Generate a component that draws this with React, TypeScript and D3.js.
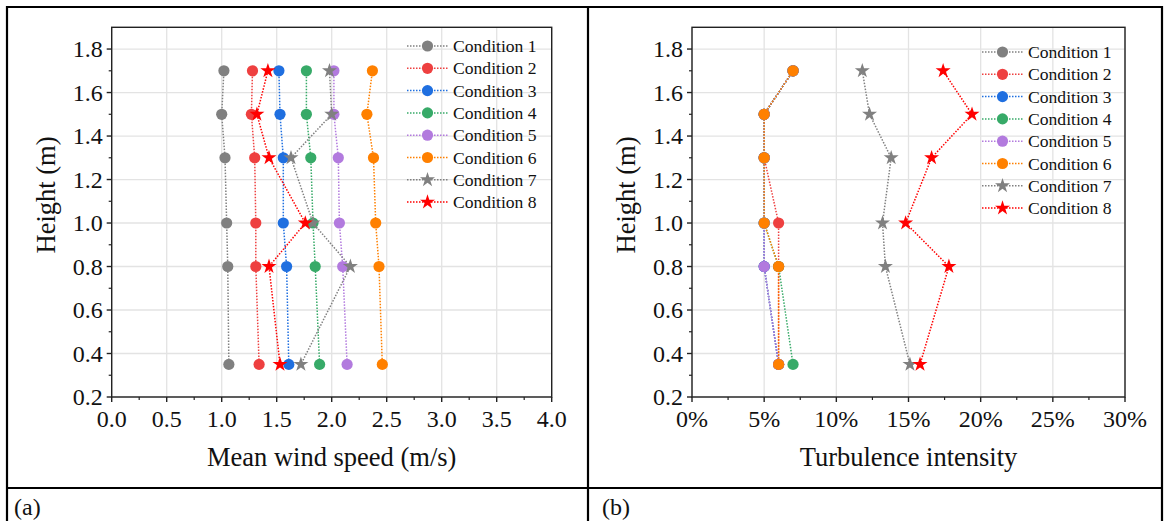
import * as d3 from 'd3';
import React from 'react';

// heights of the measuring points (m)
const heights = [1.7, 1.5, 1.3, 1.0, 0.8, 0.35];

const conditions = ['Condition 1', 'Condition 2', 'Condition 3', 'Condition 4',
  'Condition 5', 'Condition 6', 'Condition 7', 'Condition 8'];

// mean wind speed (m/s), one array per condition, same order as heights
const speed1 = [1.02, 1.0, 1.03, 1.045, 1.055, 1.065];
const speed2 = [1.28, 1.27, 1.3, 1.31, 1.31, 1.34];
const speed3 = [1.52, 1.53, 1.56, 1.56, 1.59, 1.61];
const speed4 = [1.77, 1.77, 1.81, 1.83, 1.85, 1.89];
const speed5 = [2.02, 2.02, 2.06, 2.07, 2.1, 2.14];
const speed6 = [2.37, 2.32, 2.38, 2.4, 2.43, 2.46];
const speed7 = [1.98, 2.0, 1.63, 1.83, 2.17, 1.72];
const speed8 = [1.42, 1.32, 1.43, 1.76, 1.43, 1.53];

// turbulence intensity (fraction)
const ti1 = [0.07, 0.05, 0.05, 0.05, 0.05, 0.06];
const ti2 = [0.07, 0.05, 0.05, 0.06, 0.06, 0.06];
const ti3 = [0.07, 0.05, 0.05, 0.05, 0.05, 0.06];
const ti4 = [0.07, 0.05, 0.05, 0.05, 0.06, 0.07];
const ti5 = [0.07, 0.05, 0.05, 0.05, 0.05, 0.06];
const ti6 = [0.07, 0.05, 0.05, 0.05, 0.06, 0.06];
const ti7 = [0.118, 0.123, 0.138, 0.132, 0.134, 0.151];
const ti8 = [0.174, 0.194, 0.166, 0.148, 0.178, 0.158];

const speedTicks = [0, 0.5, 1, 1.5, 2, 2.5, 3, 3.5, 4];
const tiTicks = [0, 0.05, 0.1, 0.15, 0.2, 0.25, 0.3];
const heightTicks = [0.2, 0.4, 0.6, 0.8, 1.0, 1.2, 1.4, 1.6, 1.8];

const colors = ['#808080', '#ee4040', '#1f6fe0', '#37aa68', '#b27ade', '#ff8000', '#808080', '#ff0000'];
const shapes = ['circle', 'circle', 'circle', 'circle', 'circle', 'circle', 'star', 'star'];

const FONT = '"Liberation Serif", "Times New Roman", serif';

const speedSeries = [speed1, speed2, speed3, speed4, speed5, speed6, speed7, speed8];
const tiSeries = [ti1, ti2, ti3, ti4, ti5, ti6, ti7, ti8];

const Marker = ({ x, y, i }) => {
  if (shapes[i] === 'star') {
    return <path transform={`translate(${x},${y})`} d={d3.symbol(d3.symbolStar, 70)()} fill={colors[i]} />;
  }
  return <circle cx={x} cy={y} r={5.6} fill={colors[i]} />;
};

const Panel = ({ left, right, series, xDomain, xTicks, xMinor, fmt, title, legendX, legendY }) => {
  const top = 27.3, bottom = 397;
  const x = d3.scaleLinear().domain(xDomain).range([left, right]);
  const y = d3.scaleLinear().domain([0.2, 1.9]).range([bottom, top]);
  const yMinor = d3.range(0.3, 1.9, 0.2);

  const line = d3.line<[number, number]>()
    .x(d => x(d[0]))
    .y(d => y(d[1]));

  return (
    <g>
      {/* grid */}
      {xTicks.map(t => (
        <line key={'gx' + t} x1={x(t)} x2={x(t)} y1={top} y2={bottom} stroke="#e3e3e3" strokeWidth={1.3} />
      ))}
      {heightTicks.map(t => (
        <line key={'gy' + t} x1={left} x2={right} y1={y(t)} y2={y(t)} stroke="#e3e3e3" strokeWidth={1.3} />
      ))}

      {/* series */}
      {series.map((vals, i) => {
        const pts = vals.map((v, k) => [v, heights[k]] as [number, number]);
        return (
          <g key={'s' + i}>
            <path d={line(pts)} fill="none" stroke={colors[i]} strokeWidth={1.5} strokeDasharray="1.5,1.5" />
            {pts.map((p, k) => <Marker key={k} x={x(p[0])} y={y(p[1])} i={i} />)}
          </g>
        );
      })}

      {/* legend */}
      {conditions.map((c, i) => {
        const ly = legendY + i * 22.3;
        return (
          <g key={'l' + i}>
            <line x1={legendX} x2={legendX + 41} y1={ly} y2={ly} stroke={colors[i]} strokeWidth={1.5} strokeDasharray="1.5,1.5" />
            <Marker x={legendX + 20.5} y={ly} i={i} />
            <text x={legendX + 46} y={ly + 6} fontFamily={FONT} fontSize={17.6} fill="#111">{c}</text>
          </g>
        );
      })}

      {/* frame */}
      <rect x={left} y={top} width={right - left} height={bottom - top} fill="none" stroke="#222" strokeWidth={1.4} />

      {/* x ticks */}
      {xTicks.map(t => (
        <g key={'xt' + t}>
          <line x1={x(t)} x2={x(t)} y1={bottom} y2={bottom + 5} stroke="#222" strokeWidth={1.4} />
          <text x={x(t)} y={bottom + 30} textAnchor="middle" fontFamily={FONT} fontSize={24} fill="#111">{fmt(t)}</text>
        </g>
      ))}
      {xMinor.map(t => (
        <line key={'xm' + t} x1={x(t)} x2={x(t)} y1={bottom} y2={bottom + 3} stroke="#222" strokeWidth={1.2} />
      ))}

      {/* y ticks */}
      {heightTicks.map(t => (
        <g key={'yt' + t}>
          <line x1={left - 5} x2={left} y1={y(t)} y2={y(t)} stroke="#222" strokeWidth={1.4} />
          <text x={left - 9} y={y(t) + 8} textAnchor="end" fontFamily={FONT} fontSize={24} fill="#111">{t.toFixed(1)}</text>
        </g>
      ))}
      {yMinor.map(t => (
        <line key={'ym' + t} x1={left - 3} x2={left} y1={y(t)} y2={y(t)} stroke="#222" strokeWidth={1.2} />
      ))}

      {/* axis titles */}
      <text x={(left + right) / 2} y={466} textAnchor="middle" fontFamily={FONT} fontSize={26.5} fill="#111">{title}</text>
      <text transform={`translate(${left - 57},195) rotate(-90)`} textAnchor="middle" fontFamily={FONT} fontSize={26.5} fill="#111">Height (m)</text>
    </g>
  );
};

const App = () => {
  const speedMinor = d3.range(0.25, 4, 0.5);
  const tiMinor = d3.range(0.025, 0.3, 0.05);
  return (
    <svg width={1164} height={521} style={{ position: 'absolute', left: 0, top: 0, background: '#fff' }}>
      <rect x={0} y={0} width={1164} height={521} fill="#fff" />
      {/* table borders */}
      <line x1={7} x2={1162} y1={7} y2={7} stroke="#000" strokeWidth={2.2} />
      <line x1={7} x2={7} y1={6} y2={521} stroke="#000" strokeWidth={2.2} />
      <line x1={1162} x2={1162} y1={6} y2={521} stroke="#000" strokeWidth={2.2} />
      <line x1={588} x2={588} y1={6} y2={521} stroke="#000" strokeWidth={2.2} />
      <line x1={7} x2={1162} y1={488} y2={488} stroke="#000" strokeWidth={2.2} />

      <Panel left={111.7} right={551.7} series={speedSeries} xDomain={[0, 4]} xTicks={speedTicks}
        xMinor={speedMinor} fmt={(t) => t.toFixed(1)} title="Mean wind speed (m/s)" legendX={407} legendY={46} />
      <Panel left={692} right={1125} series={tiSeries} xDomain={[0, 0.3]} xTicks={tiTicks}
        xMinor={tiMinor} fmt={(t) => Math.round(t * 100) + '%'} title="Turbulence intensity" legendX={982} legendY={52} />

      <text x={14} y={515} fontFamily={FONT} fontSize={24} fill="#111">(a)</text>
      <text x={602} y={515} fontFamily={FONT} fontSize={24} fill="#111">(b)</text>
    </svg>
  );
};

export default App;
